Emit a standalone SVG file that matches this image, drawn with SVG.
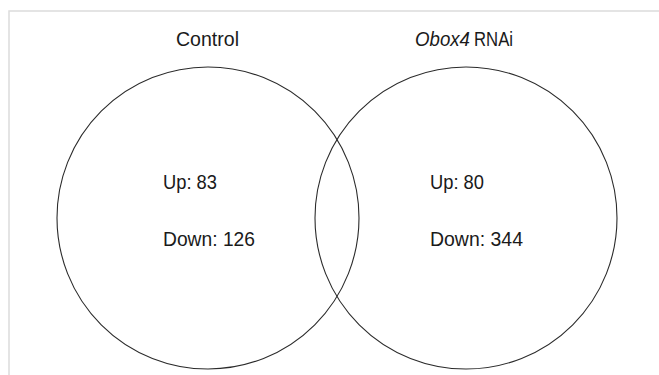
<svg xmlns="http://www.w3.org/2000/svg" width="659" height="375" viewBox="0 0 659 375">
  <style>
    .frame { fill: none; stroke: #dcdcdc; stroke-width: 1.5; }
    .set { fill: none; stroke: #2b2b2b; stroke-width: 1.1; }
    .lbl { font-family: "Liberation Sans", Arial, sans-serif; font-size: 19.5px; fill: #1a1a1a; }
    .num { font-family: "Liberation Sans", Arial, sans-serif; font-size: 19.5px; fill: #1a1a1a; }
    .it { font-style: italic; }
  </style>
  <rect width="659" height="375" fill="#ffffff"/>
  <!-- panel frame (top and left edges) -->
  <path class="frame" d="M9,375 V11 H659"/>

  <g id="set-control">
    <circle class="set" cx="208" cy="218" r="151"/>
    <text class="lbl" x="176" y="46" textLength="63" lengthAdjust="spacingAndGlyphs">Control</text>
    <text class="num" x="163" y="189" textLength="54" lengthAdjust="spacingAndGlyphs">Up: 83</text>
    <text class="num" x="163" y="246" textLength="92" lengthAdjust="spacingAndGlyphs">Down: 126</text>
  </g>

  <g id="set-obox4">
    <circle class="set" cx="466" cy="218" r="151"/>
    <text class="lbl it" x="415" y="46" textLength="55" lengthAdjust="spacingAndGlyphs">Obox4</text>
    <text class="lbl" x="474" y="46" textLength="39" lengthAdjust="spacingAndGlyphs">RNAi</text>
    <text class="num" x="430" y="189" textLength="54" lengthAdjust="spacingAndGlyphs">Up: 80</text>
    <text class="num" x="430" y="246" textLength="93" lengthAdjust="spacingAndGlyphs">Down: 344</text>
  </g>
</svg>
